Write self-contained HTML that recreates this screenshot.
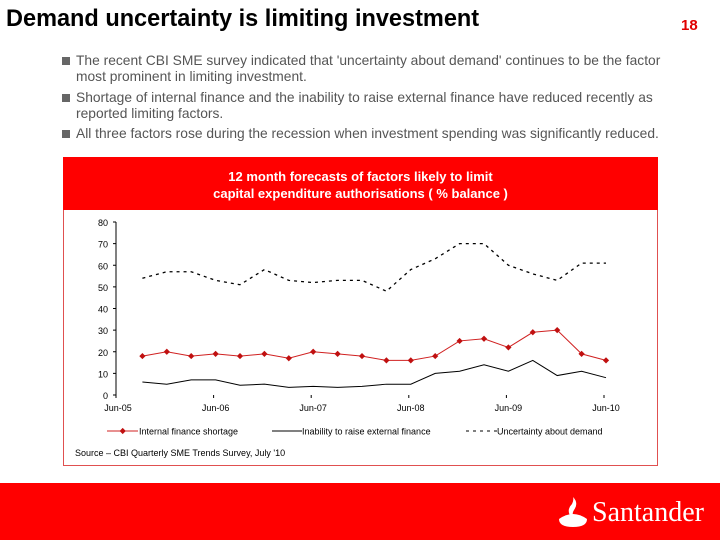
<!DOCTYPE html>
<html><head><meta charset="utf-8">
<style>
body{margin:0;width:720px;height:540px;background:#fff;position:relative;overflow:hidden;font-family:"Liberation Sans",sans-serif}
.title{position:absolute;left:6px;top:5px;font-size:24px;font-weight:bold;color:#000;transform:scaleX(0.98);transform-origin:0 0;white-space:nowrap}
.pnum{position:absolute;left:681px;top:17px;font-size:15px;font-weight:bold;color:#e00000}
.bul{position:absolute;left:62px;font-size:13.8px;color:#555;line-height:16px;width:612px}
.bul span.sq{position:absolute;left:0;top:4px;width:8px;height:8px;background:#666}
.bul div{padding-left:14px}
.hdr{position:absolute;left:63px;top:157px;width:595px;height:53px;background:#f00;color:#fff;font-weight:bold;font-size:13px;text-align:center;line-height:17px;padding-top:11px;box-sizing:border-box}
.panel{position:absolute;left:63px;top:157px;width:595px;height:309px;border:1px solid #e05050;box-sizing:border-box}
.footer{position:absolute;left:0;top:483px;width:720px;height:57px;background:#f00}
.brand{position:absolute;left:592px;top:497px;font-family:"Liberation Serif",serif;font-size:28px;color:#fff}
svg text{font-family:"Liberation Sans",sans-serif}
</style></head><body>
<div class="title">Demand uncertainty is limiting investment</div>
<div class="pnum">18</div>
<div class="bul" style="top:53px"><span class="sq"></span><div>The recent CBI SME survey indicated that 'uncertainty about demand' continues to be the factor most prominent in limiting investment.</div></div>
<div class="bul" style="top:90px"><span class="sq"></span><div>Shortage of internal finance and the inability to raise external finance have reduced recently as reported limiting factors.</div></div>
<div class="bul" style="top:126px"><span class="sq"></span><div>All three factors rose during the recession when investment spending was significantly reduced.</div></div>
<div class="panel"></div>
<div class="hdr">12 month forecasts of factors likely to limit<br>capital expenditure authorisations ( % balance )</div>
<svg id="chart" width="720" height="540" style="position:absolute;left:0;top:0"></svg>
<div class="footer"></div>
<svg style="position:absolute;left:556px;top:497px" width="34" height="32">
<path d="M3 22 Q17 12 31 22 Q31 30 17 30 Q3 30 3 22Z" fill="#fff"/>
<path d="M15 20 Q10 13 16 7 Q18 3 17 0 Q23 6 18 13 Q16 16 17 19Z" fill="#fff"/>
</svg>
<div class="brand">Santander</div>
<script>
const xLabels=["Jun-05","Jun-06","Jun-07","Jun-08","Jun-09","Jun-10"];
const yTicks=[0,10,20,30,40,50,60,70,80];
const internalFinance=[18,20,18,19,18,19,17,20,19,18,16,16,18,25,26,22,29,30,19,16];
const externalFinance=[6,5,7,7,4.5,5,3.5,4,3.5,4,5,5,10,11,14,11,16,9,11,8];
const uncertainty=[54,57,57,53,51,58,53,52,53,53,48,58,63,70,70,60,56,53,61,61];
const svg=document.getElementById('chart');
const NS='http://www.w3.org/2000/svg';
const x0=116,qw=24.4,y0=395,py=173/80;
const X=i=>x0+(i+1)*qw+2;
const Y=v=>y0-v*py;
function mk(t,a){const e=document.createElementNS(NS,t);for(const k in a)e.setAttribute(k,a[k]);svg.appendChild(e);return e;}
let ax=mk('line',{x1:x0,y1:Y(80),x2:x0,y2:y0,stroke:'#000','stroke-width':1});


yTicks.forEach(v=>{const t=mk('text',{x:x0-8,y:Y(v)+4,'font-size':9,'text-anchor':'end',fill:'#000'});t.textContent=v;


mk('line',{x1:x0-3,y1:Y(v),x2:x0,y2:Y(v),stroke:'#000'});});
xLabels.forEach((l,k)=>{const px=x0+k*97.6;
mk('line',{x1:px,y1:y0,x2:px,y2:y0+3,stroke:'#000'});
const t=mk('text',{x:px+2,y:y0+16,'font-size':9,'text-anchor':'middle',fill:'#000'});t.textContent=l;

});
function pts(a){return a.map((v,i)=>X(i)+','+Y(v)).join(' ');}
let u=mk('polyline',{points:pts(uncertainty),fill:'none',stroke:'#000','stroke-width':1.3,'stroke-dasharray':'3,4'});


let e=mk('polyline',{points:pts(externalFinance),fill:'none',stroke:'#000','stroke-width':1});


let f=mk('polyline',{points:pts(internalFinance),fill:'none',stroke:'#d02020','stroke-width':1});


internalFinance.forEach((v,i)=>{const d=mk('rect',{x:X(i)-2.2,y:Y(v)-2.2,width:4.4,height:4.4,fill:'#c01010',transform:`rotate(45 ${X(i)} ${Y(v)})`});

});
const ly=431;
mk('line',{x1:107,y1:ly,x2:138,y2:ly,stroke:'#d02020'});
mk('rect',{x:120.5,y:ly-2.2,width:4.4,height:4.4,fill:'#c01010',transform:`rotate(45 122.7 ${ly})`});
mk('line',{x1:272,y1:ly,x2:302,y2:ly,stroke:'#000'});
mk('line',{x1:466,y1:ly,x2:497,y2:ly,stroke:'#000','stroke-dasharray':'3,4'});
[["Internal finance shortage",139,'legend-internal'],["Inability to raise external finance",302,'legend-external'],["Uncertainty about demand",497,'legend-uncertainty']].forEach(a=>{
const t=mk('text',{x:a[1],y:ly+3.5,'font-size':9,fill:'#000'});t.textContent=a[0];

});
const s=mk('text',{x:75,y:456,'font-size':9,fill:'#000'});s.textContent="Source \u2013 CBI Quarterly SME Trends Survey, July '10";


</script>
</body></html>
